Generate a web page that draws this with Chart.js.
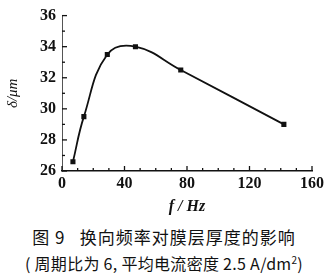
<!DOCTYPE html>
<html>
<head>
<meta charset="utf-8">
<script src="https://cdn.jsdelivr.net/npm/chart.js@4"></script>
<style>
  html, body { margin: 0; padding: 0; background: #fff; }
  #wrap { position: relative; width: 328px; height: 220px; }
  .cap { font-family: "Noto Sans CJK SC", sans-serif; color: #111; text-align: center; white-space: nowrap; }
  #cap1 { font-size: 17px; line-height: 22px; margin-top: 6px; letter-spacing: 1px; }
  #cap2 { font-size: 16px; line-height: 22px; margin-top: 1px; letter-spacing: 0.3px; }
</style>
</head>
<body>
<div id="wrap"><canvas id="c" width="328" height="220"></canvas></div>
<div class="cap" id="cap1">图 9&nbsp;&nbsp; 换向频率对膜层厚度的影响</div>
<div class="cap" id="cap2">( 周期比为 6, 平均电流密度 2.5 A/dm<sup style="font-size:10px">2</sup>)</div>
<script>
// frequency (Hz) and film thickness (um)
const freq = [7, 14, 29, 47, 76, 142];
const thickness = [26.6, 29.5, 33.5, 34.0, 32.5, 29.0];
const xTicks = [0, 40, 80, 120, 160];
const yTicks = [26, 28, 30, 32, 34, 36];

const points = freq.map((f, i) => ({ x: f, y: thickness[i] }));

// inward tick marks (major + minor)
const innerTicks = {
  id: 'innerTicks',
  afterDraw(chart) {
    const ctx = chart.ctx;
    const xs = chart.scales.x, ys = chart.scales.y;
    ctx.save();
    ctx.strokeStyle = '#111';
    ctx.lineWidth = 1.3;
    for (let v = 0; v <= 160; v += 10) {
      const px = xs.getPixelForValue(v);
      const len = (v % 40 === 0) ? 5 : 3;
      ctx.beginPath();
      ctx.moveTo(px, ys.bottom);
      ctx.lineTo(px, ys.bottom - len);
      ctx.stroke();
    }
    for (let v = 26; v <= 36; v += 1) {
      const py = ys.getPixelForValue(v);
      const len = (v % 2 === 0) ? 5 : 3;
      ctx.beginPath();
      ctx.moveTo(xs.left, py);
      ctx.lineTo(xs.left + len, py);
      ctx.stroke();
    }
    ctx.restore();
  }
};

new Chart(document.getElementById('c'), {
  type: 'line',
  data: {
    datasets: [{
      data: points,
      borderColor: '#111',
      backgroundColor: '#111',
      borderWidth: 1.8,
      tension: 0.42,
      pointStyle: 'rect',
      pointRadius: 3.6,
      pointBorderWidth: 0
    }]
  },
  options: {
    responsive: false,
    animation: false,
    layout: { padding: { top: 10, right: 16, left: 0, bottom: 0 } },
    plugins: { legend: { display: false }, tooltip: { enabled: false } },
    scales: {
      x: {
        type: 'linear',
        min: 0, max: 160,
        afterBuildTicks: s => { s.ticks = xTicks.map(v => ({ value: v })); },
        afterFit: s => { s.height = 49; },
        grid: { display: false, drawTicks: false },
        border: { display: true, color: '#111', width: 1.6 },
        ticks: {
          padding: 3,
          color: '#111',
          font: { family: 'Liberation Serif', size: 16, weight: 'bold' }
        },
        title: {
          display: true,
          text: 'f / Hz',
          color: '#111',
          padding: { top: 7 },
          font: { family: 'Liberation Serif', size: 16, weight: 'bold', style: 'italic' }
        }
      },
      y: {
        min: 26, max: 36,
        afterBuildTicks: s => { s.ticks = yTicks.map(v => ({ value: v })); },
        afterFit: s => { s.width = 62; },
        grid: { display: false, drawTicks: false },
        border: { display: true, color: '#555', width: 1 },
        ticks: {
          padding: 6,
          color: '#111',
          font: { family: 'Liberation Serif', size: 16, weight: 'bold' }
        },
        title: {
          display: true,
          text: 'δ/μm',
          color: '#111',
          padding: { bottom: 2 },
          font: { family: 'Liberation Serif', size: 15, style: 'italic' }
        }
      }
    }
  },
  plugins: [innerTicks]
});
</script>
</body>
</html>
